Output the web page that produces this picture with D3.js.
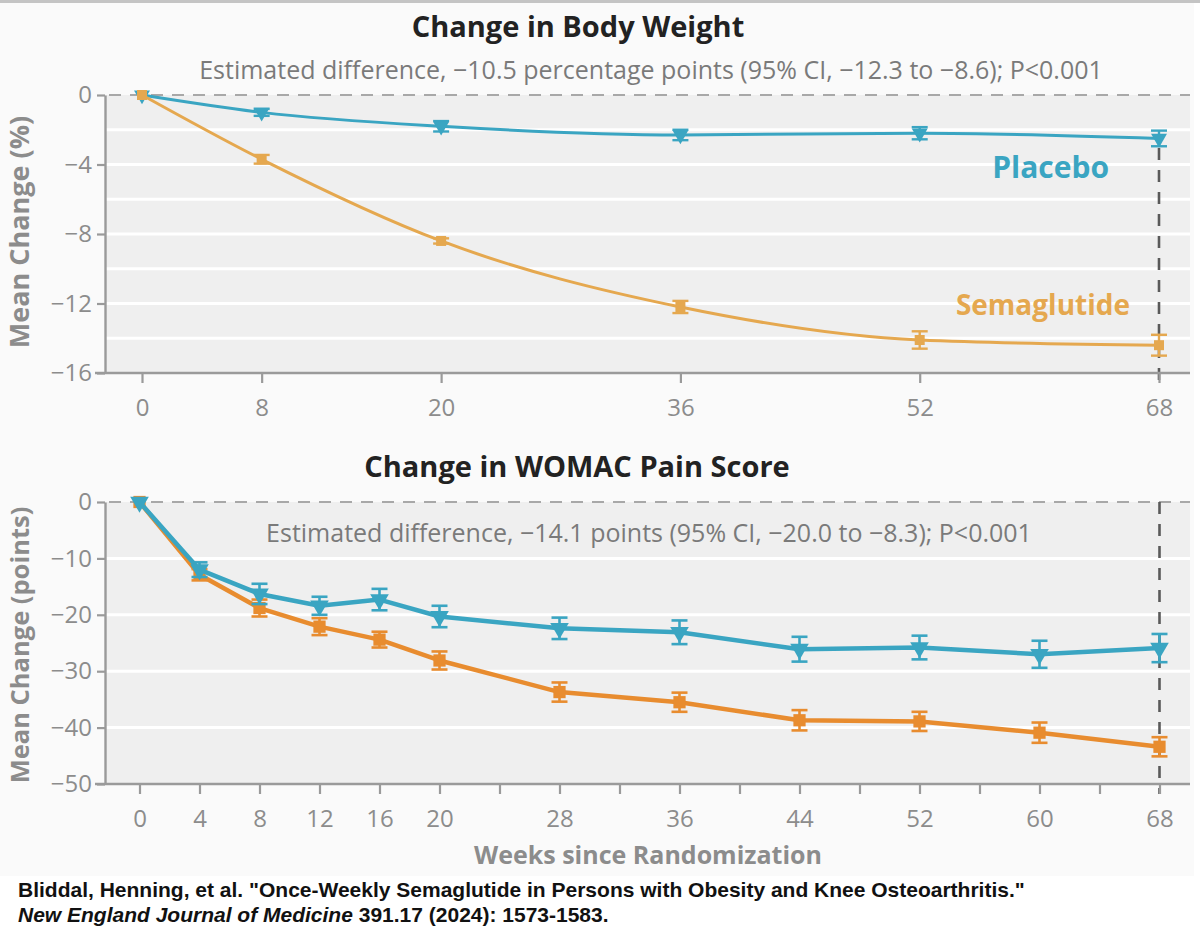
<!DOCTYPE html>
<html><head><meta charset="utf-8">
<script src="https://cdn.jsdelivr.net/npm/d3@7"></script>
<style>
body{margin:0;background:#fff;}
text{font-family:'Open Sans','Noto Sans',sans-serif;}
</style>
</head><body>
<svg id="c" width="1200" height="940"></svg>
<script>
// ---------- DATA ----------
const weightWeeks = [0, 8, 20, 36, 52, 68];
const weightPlacebo = [0, -1.0, -1.8, -2.3, -2.2, -2.5];
const weightPlaceboErr = [0, 0.2, 0.3, 0.3, 0.35, 0.45];
const weightSema = [0, -3.7, -8.4, -12.2, -14.1, -14.4];
const weightSemaErr = [0, 0.25, 0.15, 0.35, 0.5, 0.6];
const weightYTicks = [0, -4, -8, -12, -16];
const weightYGrid = [-2, -4, -6, -8, -10, -12, -14];
const weightXTicks = [0, 8, 20, 36, 52, 68];

const painWeeks = [0, 4, 8, 12, 16, 20, 28, 36, 44, 52, 60, 68];
const painPlacebo = [0, -12.0, -16.3, -18.4, -17.3, -20.3, -22.4, -23.1, -26.1, -25.8, -27.0, -25.9];
const painPlaceboErr = [0, 1.3, 1.8, 1.6, 1.9, 1.9, 1.9, 2.1, 2.2, 2.1, 2.4, 2.5];
const painSema = [0, -12.9, -18.8, -22.1, -24.4, -28.1, -33.7, -35.5, -38.7, -38.9, -40.9, -43.4];
const painSemaErr = [0, 1.0, 1.5, 1.5, 1.4, 1.6, 1.7, 1.7, 1.8, 1.7, 1.8, 1.7];
const painYTicks = [0, -10, -20, -30, -40, -50];
const painYGrid = [-10, -20, -30, -40];
const painXTicks = [0, 4, 8, 12, 16, 20, 24, 28, 32, 36, 40, 44, 48, 52, 56, 60, 64, 68];
const painXLabels = [0, 4, 8, 12, 16, 20, 28, 36, 44, 52, 60, 68];

const titles = ["Change in Body Weight", "Change in WOMAC Pain Score"];
const subtitles = [
  "Estimated difference, \u221210.5 percentage points (95% CI, \u221212.3 to \u22128.6); P<0.001",
  "Estimated difference, \u221214.1 points (95% CI, \u221220.0 to \u22128.3); P<0.001"
];
const yLabels = ["Mean Change (%)", "Mean Change (points)"];
const xLabel = "Weeks since Randomization";
const seriesNames = ["Placebo", "Semaglutide"];

// ---------- STYLE ----------
const BLUE = "#3aa5c2";
const ORANGE_TOP = "#e5a84f";
const ORANGE_BOT = "#e88c2f";
const GRAY_TXT = "#8c8c8c";
const AXIS = "#9a9a9a";
const PLOT_BG = "#efefef";

const svg = d3.select("#c");
svg.append("rect").attr("x",0).attr("y",0).attr("width",1200).attr("height",940).attr("fill","#fff");
svg.append("rect").attr("x",0).attr("y",0).attr("width",1194).attr("height",876).attr("fill","#fafafa");
svg.append("rect").attr("x",0).attr("y",0).attr("width",1200).attr("height",3).attr("fill","#c4c4c4");

function panel(cfg){
  const g = svg.append("g");
  const x = d3.scaleLinear().domain([0,68]).range(cfg.xr);
  const y = d3.scaleLinear().domain(cfg.ydom).range(cfg.yr);
  const left = 105, right = 1190;
  g.append("rect").attr("x",left).attr("y",y(0)).attr("width",right-left).attr("height",y(cfg.ydom[0])-y(0)).attr("fill",PLOT_BG);
  g.selectAll(".grid").data(cfg.grid).join("line")
    .attr("x1",left).attr("x2",right).attr("y1",d=>y(d)).attr("y2",d=>y(d))
    .attr("stroke","#fff").attr("stroke-width",3);
  g.append("line").attr("x1",left+4).attr("x2",right).attr("y1",y(0)).attr("y2",y(0))
    .attr("stroke","#a8a8a8").attr("stroke-width",2.2).attr("stroke-dasharray","12,9");
  g.append("line").attr("x1",x(68)).attr("x2",x(68)).attr("y1",y(cfg.vStart)).attr("y2",y(cfg.ydom[0])+10)
    .attr("stroke","#5a5a5a").attr("stroke-width",2.6).attr("stroke-dasharray","12,10");
  const ya = d3.axisLeft(y).tickValues(cfg.yticks).tickSize(8).tickSizeOuter(0).tickPadding(5)
    .tickFormat(d=> d===0 ? "0" : "\u2212"+Math.abs(d));
  const yg = g.append("g").attr("transform",`translate(${left},0)`).call(ya);
  const xa = d3.axisBottom(x).tickValues(cfg.xticks).tickSize(10).tickSizeOuter(0).tickPadding(cfg.xpad)
    .tickFormat(d=> cfg.xlabels.includes(d) ? d : "");
  const xg = g.append("g").attr("transform",`translate(0,${y(cfg.ydom[0])})`).call(xa);
  xg.select(".domain").remove();
  xg.append("line").attr("x1",left-10).attr("x2",right).attr("y1",0).attr("y2",0).attr("stroke",AXIS).attr("stroke-width",2.4);
  [yg,xg].forEach(a=>{
    a.selectAll(".domain").attr("stroke",AXIS).attr("stroke-width",2.4);
    a.selectAll(".tick line").attr("stroke",AXIS).attr("stroke-width",2.2);
    a.selectAll(".tick text").attr("fill",GRAY_TXT).style("font-size","24px").style("font-family","'Open Sans',sans-serif");
  });
  svg.append("text").attr("x",cfg.titleX).attr("y",cfg.titleY).attr("text-anchor","middle")
    .attr("fill","#222").style("font-size","29px").style("font-weight","700").text(cfg.title);
  svg.append("text").attr("x",cfg.subX).attr("y",cfg.subY).attr("text-anchor","middle")
    .attr("fill","#7a7a7a").style("font-size","25px").text(cfg.sub);
  svg.append("text").attr("transform",`translate(${cfg.ylabX},${cfg.ylabY}) rotate(-90)`).attr("text-anchor","middle")
    .attr("fill",GRAY_TXT).style("font-size",cfg.ylabSize).style("font-weight","700").text(cfg.ylab);

  cfg.series.forEach(s=>{
    const pts = cfg.weeks.map((w,i)=>({w, v:s.vals[i], e:s.err[i]}));
    const line = d3.line().x(d=>x(d.w)).y(d=>y(d.v)).curve(cfg.curve);
    g.append("path").datum(pts).attr("d",line).attr("fill","none").attr("stroke",s.color).attr("stroke-width",cfg.lw).attr("stroke-linejoin","round");
    const eb = g.append("g");
    pts.filter(d=>d.e>0).forEach(d=>{
      eb.append("line").attr("x1",x(d.w)).attr("x2",x(d.w)).attr("y1",y(d.v-d.e)).attr("y2",y(d.v+d.e)).attr("stroke",s.color).attr("stroke-width",cfg.ebw);
      [d.v-d.e,d.v+d.e].forEach(v=>{
        eb.append("line").attr("x1",x(d.w)-cfg.cap).attr("x2",x(d.w)+cfg.cap).attr("y1",y(v)).attr("y2",y(v)).attr("stroke",s.color).attr("stroke-width",cfg.ebw);
      });
    });
    const sym = s.shape==="tri" ? d3.symbol().type(d3.symbolTriangle).size(cfg.triSize) : d3.symbol().type(d3.symbolSquare).size(cfg.sqSize);
    g.selectAll(null).data(pts).join("path")
      .attr("d",sym).attr("fill",s.color)
      .attr("transform",d=>`translate(${x(d.w)},${y(d.v)})` + (s.shape==="tri"?" rotate(180)":""));
  });
  return {x,y};
}

const topPanel = panel({
  xr:[142,1159], ydom:[-16,0], yr:[373,95], grid:weightYGrid, yticks:weightYTicks,
  xticks:weightXTicks, xlabels:weightXTicks, xpad:16, weeks:weightWeeks, vStart:weightPlacebo[5]-weightPlaceboErr[5]-0.1,
  title:titles[0], titleX:578, titleY:37, sub:subtitles[0], subX:651, subY:79,
  ylab:yLabels[0], ylabX:29, ylabY:232, ylabSize:"27px", curve:d3.curveMonotoneX, lw:3, ebw:2.4, cap:8, triSize:110, sqSize:100,
  series:[
    {vals:weightPlacebo, err:weightPlaceboErr, color:BLUE, shape:"tri"},
    {vals:weightSema, err:weightSemaErr, color:ORANGE_TOP, shape:"sq"}
  ]
});
svg.append("text").attr("x",1109).attr("y",topPanel.y(-4.75)).attr("text-anchor","end").attr("fill",BLUE)
  .style("font-size","30px").style("font-weight","700").text(seriesNames[0]);
svg.append("text").attr("x",1130).attr("y",topPanel.y(-12.65)).attr("text-anchor","end").attr("fill",ORANGE_TOP)
  .style("font-size","28px").style("font-weight","700").text(seriesNames[1]);

const botPanel = panel({
  xr:[139.5,1159.5], ydom:[-50,0], yr:[784,502], grid:painYGrid, yticks:painYTicks,
  xticks:painXTicks, xlabels:painXLabels, xpad:16, weeks:painWeeks, vStart:0,
  title:titles[1], titleX:577, titleY:477, sub:subtitles[1], subX:649, subY:542,
  ylab:yLabels[1], ylabX:29, ylabY:645, ylabSize:"25.5px", curve:d3.curveLinear, lw:4.5, ebw:2.6, cap:8, triSize:150, sqSize:150,
  series:[
    {vals:painSema, err:painSemaErr, color:ORANGE_BOT, shape:"sq"},
    {vals:painPlacebo, err:painPlaceboErr, color:BLUE, shape:"tri"}
  ]
});
svg.append("text").attr("x",648).attr("y",864).attr("text-anchor","middle").attr("fill",GRAY_TXT)
  .style("font-size","25px").style("font-weight","700").text(xLabel);

const cit = svg.append("g").style("font-weight","700").style("font-size","21px").attr("fill","#111");
cit.append("text").attr("x",18).attr("y",897).style("font-family","'Liberation Sans',Arial,sans-serif")
  .text("Bliddal, Henning, et al. \"Once-Weekly Semaglutide in Persons with Obesity and Knee Osteoarthritis.\"");
const l2 = cit.append("text").attr("x",18).attr("y",922).style("font-family","'Liberation Sans',Arial,sans-serif");
l2.append("tspan").style("font-style","italic").text("New England Journal of Medicine");
l2.append("tspan").text(" 391.17 (2024): 1573-1583.");
</script>
</body></html>
